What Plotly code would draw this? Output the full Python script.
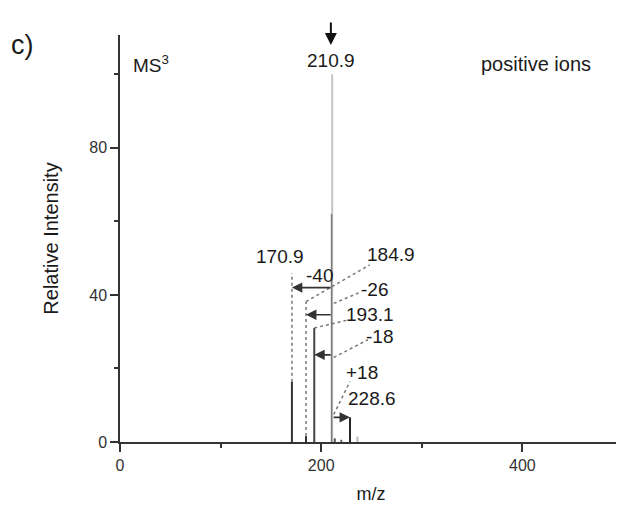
import plotly.graph_objects as go

# ---- data ----
mz = [170.9, 184.9, 193.1, 210.9, 213.5, 220.0, 228.6, 236.0]
intensity = [16.4, 1.6, 31.0, 100.0, 1.0, 0.6, 6.7, 1.5]
peak_colors = ["#333333", "#333333", "#444444", "#c4c4c4", "#555555", "#666666", "#222222", "#bbbbbb"]
precursor_mz = 210.9
precursor_dark_part = 62.0  # darker overlap of the precursor line

# neutral-loss arrows: label, target m/z, arrow level
loss_labels = ["-40", "-26", "-18", "+18"]
loss_targets = [170.9, 184.9, 193.1, 228.6]
loss_levels = [42.0, 34.6, 23.7, 6.7]
loss_label_x = [198.7, 253.3, 258.3, 240.1]
loss_label_y = [45.3, 41.5, 28.7, 19.0]

# fragment labels
frag_labels = ["170.9", "184.9", "193.1", "228.6"]
frag_label_x = [159.0, 269.2, 248.9, 250.7]
frag_label_y = [50.4, 50.9, 34.6, 11.9]

# dotted guide lines: (x0, y0, x1, y1)
guide_x0 = [170.9, 184.9, 184.9, 212.5, 193.1, 212.5, 212.5]
guide_y0 = [16.4, 1.6, 38.2, 37.7, 31.0, 23.0, 7.5]
guide_x1 = [170.9, 184.9, 248.3, 240.1, 226.8, 246.4, 228.5]
guide_y1 = [45.9, 38.2, 48.2, 40.9, 33.2, 27.8, 16.4]

x_ticks = [0, 200, 400]
y_ticks = [0, 40, 80]

FONT = "Arial, Liberation Sans, Helvetica, sans-serif"
TXT = "#1a1a1a"
LBL = 19

fig = go.Figure()

# peaks as vertical sticks
for m, h, c in zip(mz, intensity, peak_colors):
    fig.add_trace(go.Scatter(x=[m, m], y=[0, h], mode="lines",
                             line=dict(color=c, width=2), showlegend=False,
                             hoverinfo="skip"))
fig.add_trace(go.Scatter(x=[precursor_mz - 0.6, precursor_mz - 0.6], y=[0, precursor_dark_part],
                         mode="lines", line=dict(color="#7a7a7a", width=1.5),
                         showlegend=False, hoverinfo="skip"))

# dotted guides
for x0, y0, x1, y1 in zip(guide_x0, guide_y0, guide_x1, guide_y1):
    fig.add_trace(go.Scatter(x=[x0, x1], y=[y0, y1], mode="lines",
                             line=dict(color="#777777", width=1.5, dash="dot"),
                             showlegend=False, hoverinfo="skip"))

annotations = []
# loss arrows
for lab, tgt, lvl, lx, ly in zip(loss_labels, loss_targets, loss_levels, loss_label_x, loss_label_y):
    annotations.append(dict(x=tgt, y=lvl, ax=precursor_mz, ay=lvl, xref="x", yref="y",
                            axref="x", ayref="y", showarrow=True, arrowhead=2,
                            arrowsize=1.3, arrowwidth=1.6, arrowcolor="#333333", text=""))
    annotations.append(dict(x=lx, y=ly, xref="x", yref="y", text=lab, showarrow=False,
                            font=dict(size=LBL, color=TXT, family=FONT)))
for lab, lx, ly in zip(frag_labels, frag_label_x, frag_label_y):
    annotations.append(dict(x=lx, y=ly, xref="x", yref="y", text=lab, showarrow=False,
                            font=dict(size=LBL, color=TXT, family=FONT)))

# precursor label and selection arrow
annotations.append(dict(x=precursor_mz - 1.3, y=103.9, xref="x", yref="y", text="210.9",
                        showarrow=False, font=dict(size=LBL, color=TXT, family=FONT)))
annotations.append(dict(x=precursor_mz - 1.3, y=108.0, xref="x", yref="y", ax=0, ay=-24,
                        text="", showarrow=True, arrowhead=2, arrowsize=1.2,
                        arrowwidth=2, arrowcolor="#111111"))
annotations.append(dict(x=11, y=102.9, xref="x", yref="y", text="MS<sup>3</sup>",
                        showarrow=False, xanchor="left",
                        font=dict(size=LBL, color=TXT, family=FONT)))
annotations.append(dict(x=414, y=102.9, xref="x", yref="y", text="positive ions",
                        showarrow=False, font=dict(size=20, color=TXT, family=FONT)))
annotations.append(dict(x=-0.221, y=1.018, xref="paper", yref="paper", text="c)",
                        showarrow=False, xanchor="left",
                        font=dict(size=27, color=TXT, family=FONT)))

fig.update_layout(
    width=616, height=497,
    margin=dict(l=112, r=2, t=27, b=63),
    paper_bgcolor="white", plot_bgcolor="white",
    annotations=annotations,
    xaxis=dict(range=[0, 499], tickvals=x_ticks, ticktext=[str(v) for v in x_ticks],
               automargin=False,
               showline=True, linecolor="#333333", linewidth=1.5, showgrid=False,
               zeroline=False, ticks="outside", ticklen=8, tickwidth=1.5,
               tickcolor="#333333",
               minor=dict(dtick=100, tick0=0, ticks="outside", ticklen=4,
                          tickwidth=1.5, tickcolor="#333333", showgrid=False),
               tickfont=dict(size=16, color="#333333", family=FONT),
               title=dict(text="m/z", standoff=14,
                          font=dict(size=18, color=TXT, family=FONT))),
    yaxis=dict(range=[0, 110.7], tickvals=y_ticks, ticktext=[str(v) for v in y_ticks],
               automargin=False,
               showline=True, linecolor="#333333", linewidth=1.5, showgrid=False,
               zeroline=False, ticks="outside", ticklen=8, tickwidth=1.5,
               tickcolor="#333333",
               minor=dict(dtick=20, tick0=0, ticks="outside", ticklen=4,
                          tickwidth=1.5, tickcolor="#333333", showgrid=False),
               tickfont=dict(size=16, color="#333333", family=FONT),
               title=dict(text="Relative Intensity", standoff=25,
                          font=dict(size=20, color=TXT, family=FONT))),
)

fig.write_html("out.html")
